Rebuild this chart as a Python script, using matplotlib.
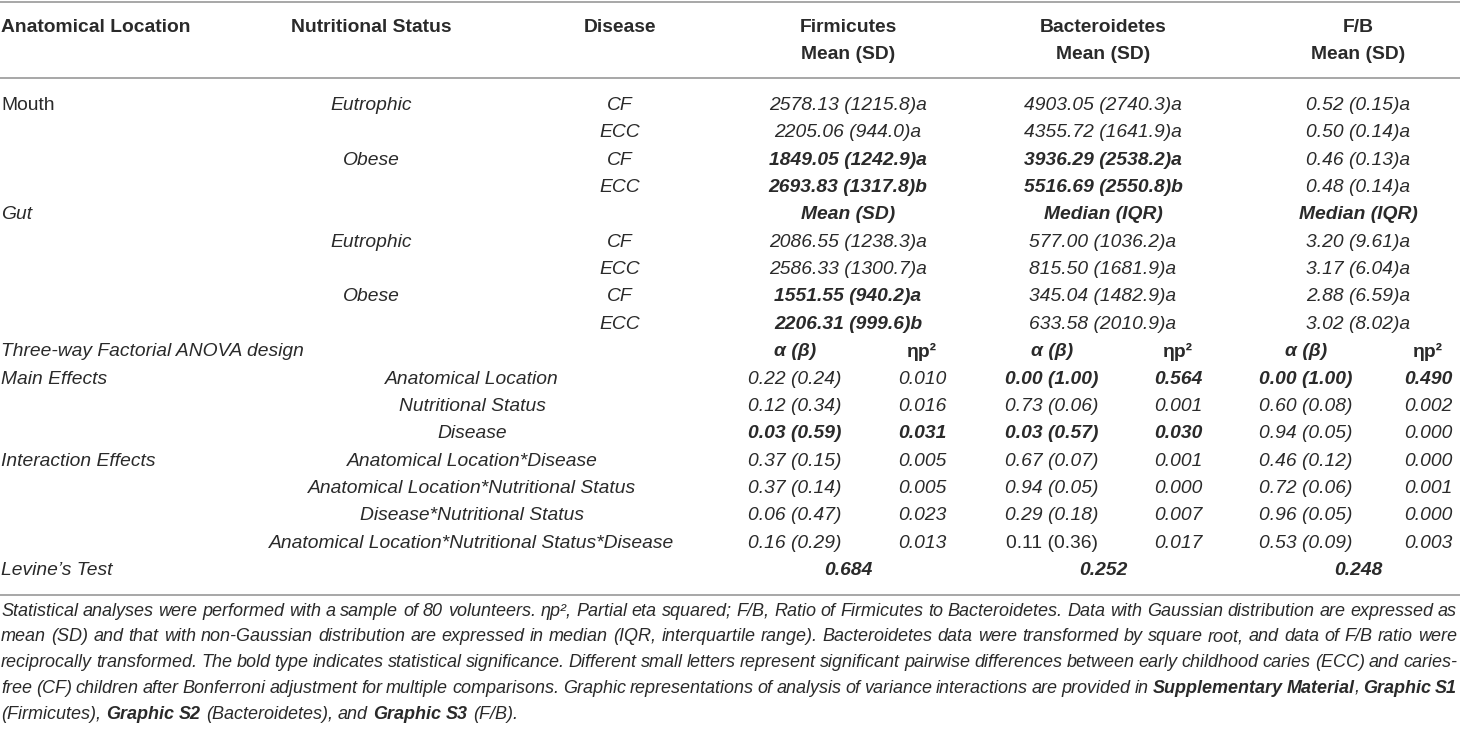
import re
import matplotlib
matplotlib.use('Agg')
import matplotlib.pyplot as plt

plt.rcParams['font.family'] = ['Liberation Sans', 'DejaVu Sans']

# table content
nutrition = ['Eutrophic', '', 'Obese', '']
disease = ['CF', 'ECC', 'CF', 'ECC']

mouth_firm = ['2578.13 (1215.8)a', '2205.06 (944.0)a', '1849.05 (1242.9)a', '2693.83 (1317.8)b']
mouth_firm_bold = [False, False, True, True]
mouth_bact = ['4903.05 (2740.3)a', '4355.72 (1641.9)a', '3936.29 (2538.2)a', '5516.69 (2550.8)b']
mouth_bact_bold = [False, False, True, True]
mouth_fb = ['0.52 (0.15)a', '0.50 (0.14)a', '0.46 (0.13)a', '0.48 (0.14)a']

gut_firm = ['2086.55 (1238.3)a', '2586.33 (1300.7)a', '1551.55 (940.2)a', '2206.31 (999.6)b']
gut_firm_bold = [False, False, True, True]
gut_bact = ['577.00 (1036.2)a', '815.50 (1681.9)a', '345.04 (1482.9)a', '633.58 (2010.9)a']
gut_fb = ['3.20 (9.61)a', '3.17 (6.04)a', '2.88 (6.59)a', '3.02 (8.02)a']

effects = ['Anatomical Location', 'Nutritional Status', 'Disease',
           'Anatomical Location*Disease', 'Anatomical Location*Nutritional Status',
           'Disease*Nutritional Status', 'Anatomical Location*Nutritional Status*Disease']
firm_ab = ['0.22 (0.24)', '0.12 (0.34)', '0.03 (0.59)', '0.37 (0.15)', '0.37 (0.14)', '0.06 (0.47)', '0.16 (0.29)']
firm_eta = ['0.010', '0.016', '0.031', '0.005', '0.005', '0.023', '0.013']
firm_bold = [False, False, True, False, False, False, False]
bact_ab = ['0.00 (1.00)', '0.73 (0.06)', '0.03 (0.57)', '0.67 (0.07)', '0.94 (0.05)', '0.29 (0.18)', '0.11 (0.36)']
bact_eta = ['0.564', '0.001', '0.030', '0.001', '0.000', '0.007', '0.017']
bact_bold = [True, False, True, False, False, False, False]
fb_ab = ['0.00 (1.00)', '0.60 (0.08)', '0.94 (0.05)', '0.46 (0.12)', '0.72 (0.06)', '0.96 (0.05)', '0.53 (0.09)']
fb_eta = ['0.490', '0.002', '0.000', '0.000', '0.001', '0.000', '0.003']
fb_bold = [True, False, False, False, False, False, False]
levene = ['0.684', '0.252', '0.248']

footnote = [
    'Statistical analyses were performed with a sample of 80 volunteers. ηp², Partial eta squared; F/B, Ratio of Firmicutes to Bacteroidetes. Data with Gaussian distribution are expressed as',
    'mean (SD) and that with non-Gaussian distribution are expressed in median (IQR, interquartile range). Bacteroidetes data were transformed by square root, and data of F/B ratio were',
    'reciprocally transformed. The bold type indicates statistical significance. Different small letters represent significant pairwise differences between early childhood caries (ECC) and caries-',
    'free (CF) children after Bonferroni adjustment for multiple comparisons. Graphic representations of analysis of variance interactions are provided in **Supplementary Material**, **Graphic S1**',
    '(Firmicutes), **Graphic S2** (Bacteroidetes), and **Graphic S3** (F/B).',
]

W, H = 1460, 729
FS = 13.9
TXT = '#2a2a2a'

fig = plt.figure(figsize=(W / 100, H / 100), dpi=100)
ax = fig.add_axes([0, 0, 1, 1])
ax.set_xlim(0, W)
ax.set_ylim(H, 0)
ax.axis('off')


def put(x, y, s, ha='center', bold=False, italic=True, fs=FS, color=TXT):
    return ax.text(x, y, s, ha=ha, va='center', fontsize=fs, color=color,
                   fontweight='bold' if bold else 'normal',
                   fontstyle='italic' if italic else 'normal')


# column centres
x_nut, x_dis = 371, 620
x_firm, x_bact, x_fb = 848, 1103, 1358
x_eff = 472
x_ab = [795, 1052, 1306]
x_eta = [922, 1178, 1428]

# rules
for yy in [1.5, 78, 595]:
    ax.axhline(yy, color='#a0a0a0', lw=1.3)

# header
put(1, 27, 'Anatomical Location', ha='left', bold=True, italic=False)
put(x_nut, 27, 'Nutritional Status', bold=True, italic=False)
put(x_dis, 27, 'Disease', bold=True, italic=False)
for xc, name in zip([x_firm, x_bact, x_fb], ['Firmicutes', 'Bacteroidetes', 'F/B']):
    put(xc, 27, name, bold=True, italic=False)
    put(xc, 54, 'Mean (SD)', bold=True, italic=False)

row_y = [105.5 + 27.35 * i for i in range(18)]

# mouth block
put(1, row_y[0], 'Mouth', ha='left', italic=False)
for i in range(4):
    y = row_y[i]
    put(x_nut, y, nutrition[i])
    put(x_dis, y, disease[i])
    put(x_firm, y, mouth_firm[i], bold=mouth_firm_bold[i])
    put(x_bact, y, mouth_bact[i], bold=mouth_bact_bold[i])
    put(x_fb, y, mouth_fb[i])

# gut block
put(1, row_y[4], 'Gut', ha='left')
put(x_firm, row_y[4], 'Mean (SD)', bold=True)
put(x_bact, row_y[4], 'Median (IQR)', bold=True)
put(x_fb, row_y[4], 'Median (IQR)', bold=True)
for i in range(4):
    y = row_y[5 + i]
    put(x_nut, y, nutrition[i])
    put(x_dis, y, disease[i])
    put(x_firm, y, gut_firm[i], bold=gut_firm_bold[i])
    put(x_bact, y, gut_bact[i])
    put(x_fb, y, gut_fb[i])

# anova block
put(1, row_y[9], 'Three-way Factorial ANOVA design', ha='left')
for xa, xe in zip(x_ab, x_eta):
    put(xa, row_y[9], 'α (β)', bold=True)
    put(xe, row_y[9], 'ηp²', bold=True, italic=False)
put(1, row_y[10], 'Main Effects', ha='left')
put(1, row_y[13], 'Interaction Effects', ha='left')
groups = [(firm_ab, firm_eta, firm_bold), (bact_ab, bact_eta, bact_bold), (fb_ab, fb_eta, fb_bold)]
for i, eff in enumerate(effects):
    y = row_y[10 + i]
    put(x_eff, y, eff)
    for g, (ab, eta, bb) in enumerate(groups):
        upright = (g == 1 and i == 6)
        put(x_ab[g], y, ab[i], bold=bb[i], italic=not upright)
        put(x_eta[g], y, eta[i], bold=bb[i])

put(1, row_y[17], 'Levine’s Test', ha='left')
for xc, v in zip([x_firm, x_bact, x_fb], levene):
    put(xc, row_y[17], v, bold=True)

# footnote, justified lines
fig.canvas.draw()
renderer = fig.canvas.get_renderer()
inv = ax.transData.inverted()


def width_of(t):
    bb = t.get_window_extent(renderer)
    p0 = inv.transform((bb.x0, bb.y0))
    p1 = inv.transform((bb.x1, bb.y0))
    return p1[0] - p0[0]


FN_FS = 13.0
left, right = 1, 1457

probe = put(100, 300, 'a a', ha='left', fs=FN_FS)
probe2 = put(100, 300, 'aa', ha='left', fs=FN_FS)
space = width_of(probe) - width_of(probe2)
probe.remove()
probe2.remove()

for k, line in enumerate(footnote):
    y = 611 + 25.8 * k
    # split into words keeping bold state
    words = []
    pieces = re.split(r'(\*\*)', line)
    bold = False
    cur = []
    for p in pieces:
        if p == '**':
            bold = not bold
            continue
        parts = p.split(' ')
        for j, part in enumerate(parts):
            if j > 0:
                words.append(cur)
                cur = []
            if part:
                cur.append((part, bold))
    words.append(cur)
    words = [w for w in words if w]

    arts = [[put(left, y, txt, ha='left', bold=b, fs=FN_FS) for txt, b in w] for w in words]
    widths = [[width_of(t) for t in wa] for wa in arts]
    total = sum(sum(ws) for ws in widths)
    if k < len(footnote) - 1:
        gap = (right - left - total) / (len(words) - 1)
    else:
        gap = space
    x = left
    for wa, ws in zip(arts, widths):
        for t, wd in zip(wa, ws):
            t.set_x(x)
            x += wd
        x += gap

fig.savefig('out.png', dpi=100)
